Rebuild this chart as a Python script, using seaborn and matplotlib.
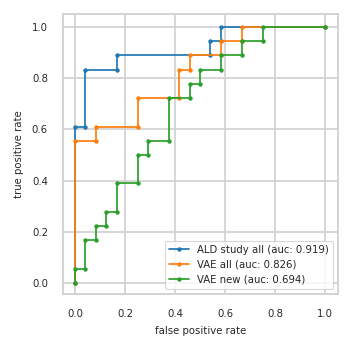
import matplotlib
matplotlib.use("Agg")
import matplotlib.pyplot as plt
import seaborn as sns
import pandas as pd

ald_fpr = [0, 0, 1/24, 1/24, 4/24, 4/24, 13/24, 13/24, 14/24, 14/24, 1]
ald_tpr = [0, 11/18, 11/18, 15/18, 15/18, 16/18, 16/18, 17/18, 17/18, 1, 1]

vae_all_fpr = [0, 0, 2/24, 2/24, 6/24, 6/24, 10/24, 10/24, 11/24, 11/24, 14/24, 14/24, 16/24, 16/24, 1]
vae_all_tpr = [0, 10/18, 10/18, 11/18, 11/18, 13/18, 13/18, 15/18, 15/18, 16/18, 16/18, 17/18, 17/18, 1, 1]

vae_new_fpr = [0, 0, 1/24, 1/24, 2/24, 2/24, 3/24, 3/24, 4/24, 4/24, 6/24, 6/24, 7/24, 7/24,
               9/24, 9/24, 11/24, 11/24, 12/24, 12/24, 14/24, 14/24, 16/24, 16/24, 18/24, 18/24, 1]
vae_new_tpr = [0, 1/18, 1/18, 3/18, 3/18, 4/18, 4/18, 5/18, 5/18, 7/18, 7/18, 9/18, 9/18, 10/18,
               10/18, 13/18, 13/18, 14/18, 14/18, 15/18, 15/18, 16/18, 16/18, 17/18, 17/18, 1, 1]

labels = ["ALD study all (auc: 0.919)", "VAE all (auc: 0.826)", "VAE new (auc: 0.694)"]
ticks = [0.0, 0.2, 0.4, 0.6, 0.8, 1.0]

frames = []
for lab, fx, ty in zip(labels, [ald_fpr, vae_all_fpr, vae_new_fpr], [ald_tpr, vae_all_tpr, vae_new_tpr]):
    frames.append(pd.DataFrame({"fpr": fx, "tpr": ty, "model": lab}))
df = pd.concat(frames, ignore_index=True)

sns.set_theme(context="paper", style="whitegrid")
plt.rcParams["axes.edgecolor"] = "#d0d0d0"
plt.rcParams["grid.color"] = "#d0d0d0"
plt.rcParams["axes.linewidth"] = 1.3
plt.rcParams["grid.linewidth"] = 1.2
plt.rcParams["text.color"] = "#262626"

DPI = 100
W = H = 352
fig = plt.figure(figsize=(W / DPI, H / DPI), dpi=DPI)
ax = fig.add_axes([63 / W, 1 - 294 / H, (338 - 63) / W, (294 - 14) / H])
sns.lineplot(data=df, x="fpr", y="tpr", hue="model", sort=False, estimator=None,
             palette=["#1f77b4", "#ff7f0e", "#2ca02c"],
             marker="o", markersize=3.2, markeredgewidth=0, linewidth=1.25, ax=ax)
ax.set_xlabel("false positive rate", fontsize=7.3, labelpad=5)
ax.set_ylabel("true positive rate", fontsize=7.3, labelpad=6)
ax.tick_params(labelsize=7.3, pad=10.8, length=0)
ax.set_xticks(ticks)
ax.set_yticks(ticks)
ax.set_xlim(-0.048, 1.052)
ax.set_ylim(-0.043, 1.051)
leg = ax.legend(title=None, loc="lower right", fontsize=7.3)
fig.savefig("out.png", dpi=DPI)
